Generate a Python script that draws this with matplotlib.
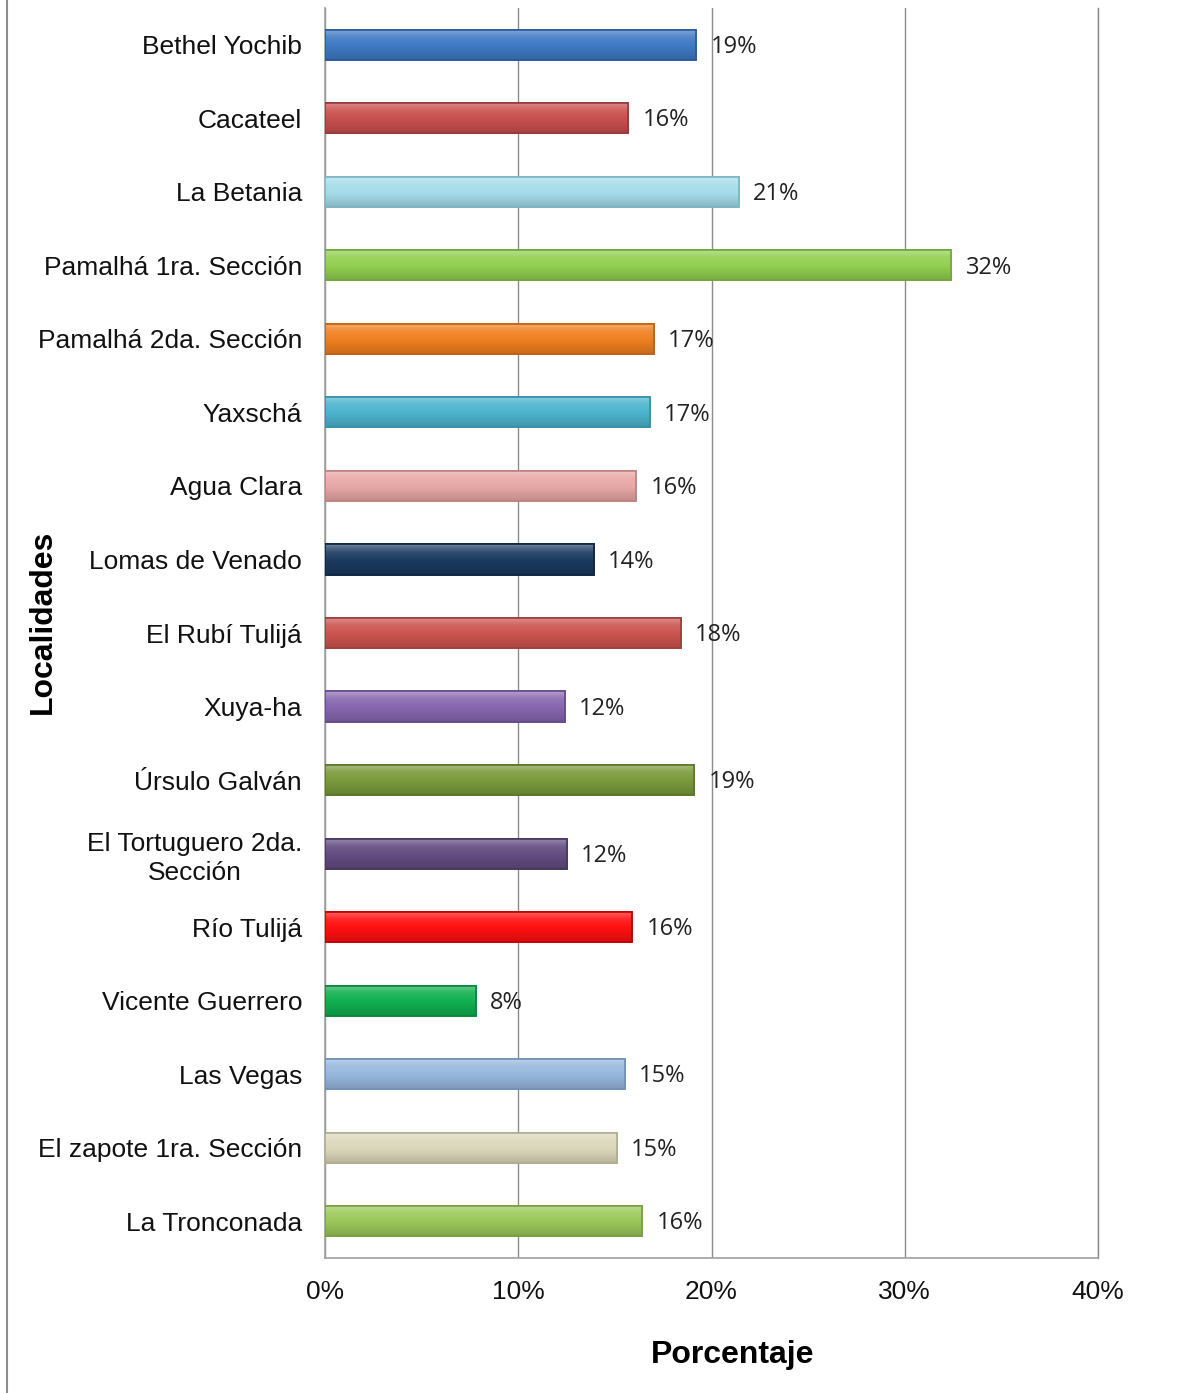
import matplotlib
matplotlib.use("Agg")
import matplotlib.pyplot as plt
import numpy as np
from matplotlib.lines import Line2D
from matplotlib.ticker import FuncFormatter
from matplotlib.colors import to_rgb

localidades = ["Bethel Yochib", "Cacateel", "La Betania", "Pamalhá 1ra. Sección",
               "Pamalhá 2da. Sección", "Yaxschá", "Agua Clara", "Lomas de Venado",
               "El Rubí Tulijá", "Xuya-ha", "Úrsulo Galván", "El Tortuguero 2da.\nSección",
               "Río Tulijá", "Vicente Guerrero", "Las Vegas", "El zapote 1ra. Sección",
               "La Tronconada"]
valores = [19.2, 15.7, 21.4, 32.4, 17.0, 16.8, 16.1, 13.9, 18.4, 12.4, 19.1, 12.5,
           15.9, 7.8, 15.5, 15.1, 16.4]
etiquetas = ["19%", "16%", "21%", "32%", "17%", "17%", "16%", "14%", "18%", "12%",
             "19%", "12%", "16%", "8%", "15%", "15%", "16%"]
colores = ["#3F7AC4", "#C9504E", "#A6DCEA", "#92D050", "#F08020", "#4CB4CE",
           "#E8A8A6", "#1B3A60", "#CC5450", "#8666B0", "#7A9A3C", "#634C82",
           "#FF1010", "#10B050", "#98B8DE", "#DCD8BC", "#9CC85A"]
edges = ["#2A5A98", "#963A38", "#7AB4C4", "#6EA838", "#C06010", "#3590A8",
         "#C08080", "#0E2440", "#A03C3A", "#654C8C", "#5A7628", "#483660",
         "#C00000", "#088838", "#7090B8", "#B0AC90", "#78A040"]

W, H = 1182, 1393
fig = plt.figure(figsize=(W / 100, H / 100), dpi=100)
ax = fig.add_axes([325 / W, 1 - 1258 / H, (1098 - 325) / W, (1258 - 8) / H])

ypos = list(range(len(localidades)))
bh = 0.41
bars = ax.barh(ypos, valores, height=bh, color=colores, edgecolor=edges,
               linewidth=1.2, zorder=3)

# bevel-like vertical gradient on each bar
t = np.linspace(0, 1, 32)
shade = np.where(t < 0.25, 1.35 - t * 1.0, 1.1 - (t - 0.25) * 0.35)
for b, c, y, v in zip(bars, colores, ypos, valores):
    base = np.array(to_rgb(c))
    img = np.empty((len(t), 1, 3))
    for i, s in enumerate(shade):
        if s >= 1:
            img[i, 0] = base + (1 - base) * (s - 1)
        else:
            img[i, 0] = base * s
    img = np.clip(img, 0, 1)
    im = ax.imshow(img, extent=[0, v, y + bh / 2, y - bh / 2], aspect="auto",
                   zorder=3.5, interpolation="bilinear")
    im.set_clip_path(b)
    ax.barh(y, v, height=bh, color="none", edgecolor=b.get_edgecolor(),
            linewidth=1.2, zorder=3.6)

for y, v, tx in zip(ypos, valores, etiquetas):
    ax.text(v + 0.75, y + 0.03, tx, va="center", ha="left", fontsize=17,
            family="Open Sans", color="#222222", zorder=4)

ax.set_xlim(0, 40)
ax.set_ylim(len(localidades) - 0.5, -0.5)
ax.set_xticks([0, 10, 20, 30, 40])
ax.xaxis.set_major_formatter(FuncFormatter(lambda x, p: f"{int(x)}%"))
ax.set_yticks(ypos)
ax.set_yticklabels(localidades, multialignment="center", linespacing=1.25)
ax.tick_params(axis="both", length=0, labelsize=19, colors="#111111")
ax.tick_params(axis="y", pad=16.5)
ax.tick_params(axis="x", pad=16)
for lab in ax.get_xticklabels() + ax.get_yticklabels():
    lab.set_family("Liberation Sans")

ax.grid(axis="x", color="#8C8C8C", linewidth=1.0, zorder=0)
ax.spines["top"].set_visible(False)
ax.spines["right"].set_color("#8C8C8C")
ax.spines["right"].set_linewidth(1.0)
for s in ["left", "bottom"]:
    ax.spines[s].set_color("#A0A0A0")
    ax.spines[s].set_linewidth(1.2)

ax.set_xlabel("Porcentaje", fontsize=23, fontweight="bold", family="Liberation Sans")
ax.xaxis.set_label_coords(0.527, -0.066)
ax.set_ylabel("Localidades", fontsize=23, fontweight="bold", family="Liberation Sans")
ax.yaxis.set_label_coords(-0.345, 0.509)

fig.add_artist(Line2D([7 / W, 7 / W], [0, 1], color="#8C8C8C", linewidth=1.5,
                      transform=fig.transFigure))

fig.savefig("out.png", dpi=100, facecolor="white")
